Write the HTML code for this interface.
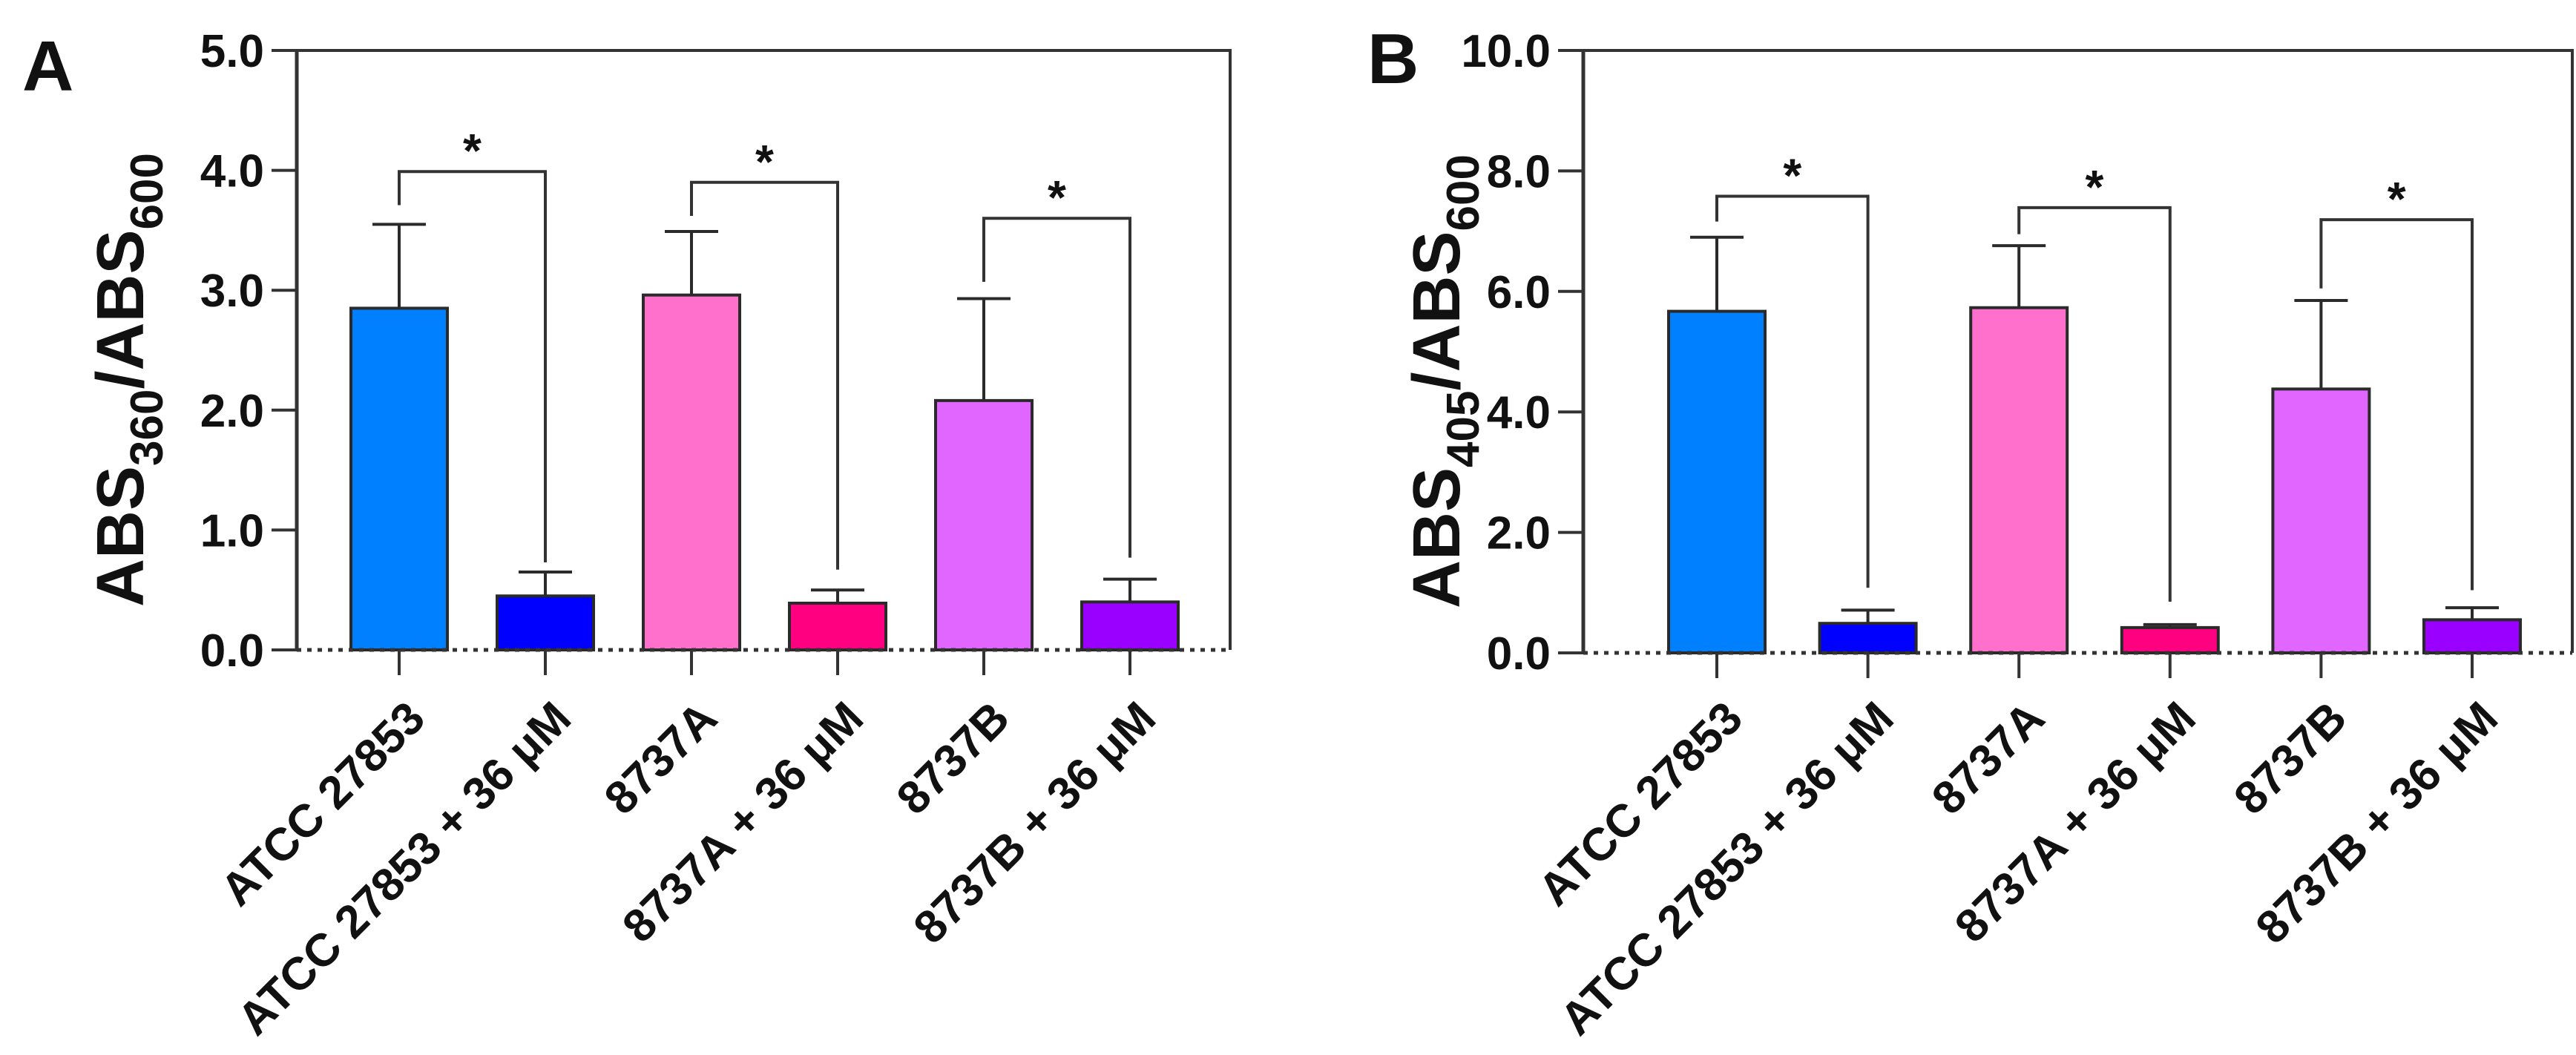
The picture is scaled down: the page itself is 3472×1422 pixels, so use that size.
<!DOCTYPE html>
<html><head><meta charset="utf-8">
<style>
html,body{margin:0;padding:0;background:#fff;}
svg{display:block;font-family:"Liberation Sans",sans-serif;}
</style></head>
<body>
<svg id="fig" width="3472" height="1422" viewBox="0 0 3472 1422" xmlns="http://www.w3.org/2000/svg">
<text x="30" y="122" font-size="96" font-weight="bold" fill="#111">A</text>
<text x="1843" y="112" font-size="96" font-weight="bold" fill="#111">B</text>
<g id="panelA"></g>
<g id="panelB"></g>
</svg>
<script>
const categories = ["ATCC 27853","ATCC 27853 + 36 \u03bcM","8737A","8737A + 36 \u03bcM","8737B","8737B + 36 \u03bcM"];
const barColors = ["#0080ff","#0000ff","#ff70cc","#ff0080","#e066ff","#9900ff"];
const valuesA = [2.85,0.45,2.96,0.39,2.08,0.40];
const errorsA = [3.55,0.65,3.49,0.50,2.93,0.59];
const ticksA = [0,1,2,3,4,5];
const bracketsA = [[0,1,3.99,3.71,0.73],[2,3,3.90,3.62,0.67],[4,5,3.60,3.07,0.77]];
const valuesB = [5.67,0.49,5.73,0.42,4.38,0.55];
const errorsB = [6.90,0.71,6.76,0.47,5.85,0.75];
const ticksB = [0,2,4,6,8,10];
const bracketsB = [[0,1,7.58,7.16,1.08],[2,3,7.39,6.95,0.85],[4,5,7.19,6.05,1.04]];

const NS = "http://www.w3.org/2000/svg";
function mk(parent, tag, attrs, text){
  const e = document.createElementNS(NS, tag);
  for (const k in attrs) e.setAttribute(k, attrs[k]);
  if (text !== undefined) e.textContent = text;
  parent.appendChild(e);
  return e;
}

function drawPanel(g, cfg){
  const left = cfg.left, right = cfg.right, top = 68, zero = cfg.zero;
  const ymax = cfg.ticks[cfg.ticks.length-1];
  const y = v => zero - (v / ymax) * (zero - top);
  const step = (cfg.lastC - cfg.firstC) / (categories.length - 1);
  const x = i => cfg.firstC + i * step;
  const bw = 130;
  const stroke = "#2a2a2a";

  const frame = mk(g, "path", {d:`M${left} ${top} H${right} V${zero}`, fill:"none", stroke:"#333", "stroke-width":4});
  
  

  cfg.ticks.forEach(t => {
    const tk = mk(g, "line", {x1:left-34, x2:left, y1:y(t), y2:y(t), stroke:"#333", "stroke-width":4});
    
    
    const lb = mk(g, "text", {x:left-44, y:y(t)+22, "font-size":62, "font-weight":"bold", "text-anchor":"end", fill:"#111"}, t.toFixed(1));
    
    
  });

  cfg.values.forEach((v, i) => {
    const cx = x(i);
    const eb = mk(g, "path", {d:`M${cx} ${y(v)} V${y(cfg.errors[i])} M${cx-36} ${y(cfg.errors[i])} H${cx+36}`, stroke:stroke, "stroke-width":4, fill:"none"});
    
    
    const r = mk(g, "rect", {x:cx-bw/2, y:y(v), width:bw, height:zero-y(v), fill:barColors[i], stroke:stroke, "stroke-width":4});
    
    
    const tk = mk(g, "line", {x1:cx, x2:cx, y1:zero, y2:zero+34, stroke:"#333", "stroke-width":4});
    
    
    const px = cx + 38, py = 972;
    const lb = mk(g, "text", {x:px, y:py, "font-size":62, "font-weight":"bold", "text-anchor":"end", fill:"#111", transform:`rotate(-45 ${px} ${py})`}, categories[i]);
    
    
  });

  cfg.brackets.forEach(b => {
    const x1 = x(b[0]), x2 = x(b[1]);
    const p = mk(g, "path", {d:`M${x1} ${y(b[3])} V${y(b[2])} H${x2} V${y(b[4])}`, fill:"none", stroke:"#333", "stroke-width":4});
    
    
    const s = mk(g, "text", {x:(x1+x2)/2, y:y(b[2])-6, "font-size":64, "font-weight":"bold", "text-anchor":"middle", fill:"#111"}, "*");
    
    
  });

  const ax = mk(g, "line", {x1:left, x2:left, y1:top-2, y2:zero+2, stroke:"#333", "stroke-width":5});
  
  
  const base = mk(g, "line", {x1:left, x2:right, y1:zero, y2:zero, stroke:"#333", "stroke-width":5, "stroke-dasharray":"6 8"});
  
  

  const tx = cfg.titleX, ty = (top + zero) / 2 + 40;
  const tt = mk(g, "text", {x:tx, y:ty, "font-size":90, "font-weight":"bold", "text-anchor":"middle", fill:"#111", transform:`rotate(-90 ${tx} ${ty})`});
  
  
  mk(tt, "tspan", {}, "ABS");
  mk(tt, "tspan", {"font-size":62, dy:26}, cfg.sub);
  mk(tt, "tspan", {"font-size":90, dy:-26}, "/ABS");
  mk(tt, "tspan", {"font-size":62, dy:26}, "600");
}

drawPanel(document.getElementById("panelA"), {left:400, right:1658, zero:876, firstC:538, lastC:1523, ticks:ticksA, values:valuesA, errors:errorsA, brackets:bracketsA, titleX:193, sub:"360"});
drawPanel(document.getElementById("panelB"), {left:2134, right:3467, zero:880, firstC:2314, lastC:3332, ticks:ticksB, values:valuesB, errors:errorsB, brackets:bracketsB, titleX:1967, sub:"405"});
</script>
</body></html>
